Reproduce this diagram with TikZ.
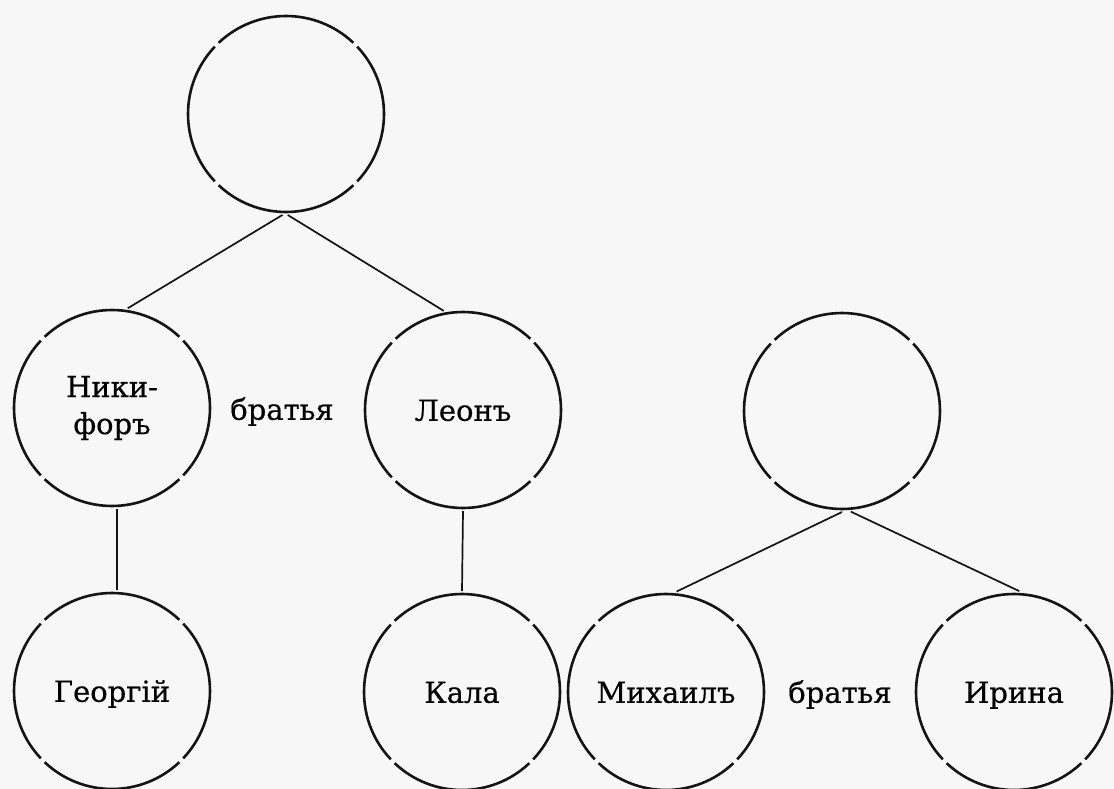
\documentclass[tikz,border=0pt]{standalone}
\usepackage{fontspec}
\setmainfont{DejaVu Serif}
\newfontfamily\oldfont[FakeBold=0.5]{DejaVu Serif}
\begin{document}
\begin{tikzpicture}[x=1pt,y=-1pt,
  person/.style={circle,draw=none,minimum size=196pt,inner sep=0pt,outer sep=3pt,
    align=center,font=\oldfont\fontsize{29}{37}\selectfont},
  one/.style={text height=21.5pt,text depth=0pt},
  lbl/.style={inner sep=0pt,text height=21.5pt,text depth=0pt,font=\oldfont\fontsize{29}{37}\selectfont},
  ring/.style={line width=2.6pt,draw=black!92},
  link/.style={line width=1.7pt,draw=black!92}]
\useasboundingbox (0,0) rectangle (1114,789);
\fill[black!3] (0,0) rectangle (1114,789);
% nodes
\node[person] (T1) at (286,114) {};
\node[person] (N)  at (112,408) {Ники-\\форъ};
\node[person,one] (L)  at (463,410) {Леонъ};
\node[person] (T2) at (842,411) {};
\node[person,one] (G)  at (112,691) {Георгій};
\node[person,one] (K)  at (462,692) {Кала};
\node[person,one] (M)  at (666,692) {Михаилъ};
\node[person,one] (I)  at (1014,692) {Ирина};
\node[lbl] (b1) at (282,409) {братья};
\node[lbl] (b2) at (840,692) {братья};
% broken circles
\foreach \n in {T1,N,L,T2,G,K,M,I}{
  \foreach \a in {45,135,225,315}{
    \draw[ring] (\n.center) ++(\a+1.6:98pt) arc[start angle=\a+1.6,end angle=\a+88.4,radius=98pt];
  }
}
% connectors
\draw[link] (T1.268) -- (N.81);
\draw[link] (T1.271) -- (L.101);
\draw[link] (N.273) -- (G.87);
\draw[link] (L.south) -- (K.north);
\draw[link] (T2.270) -- (M.84);
\draw[link] (T2.275) -- (I.87);
\end{tikzpicture}
\end{document}
